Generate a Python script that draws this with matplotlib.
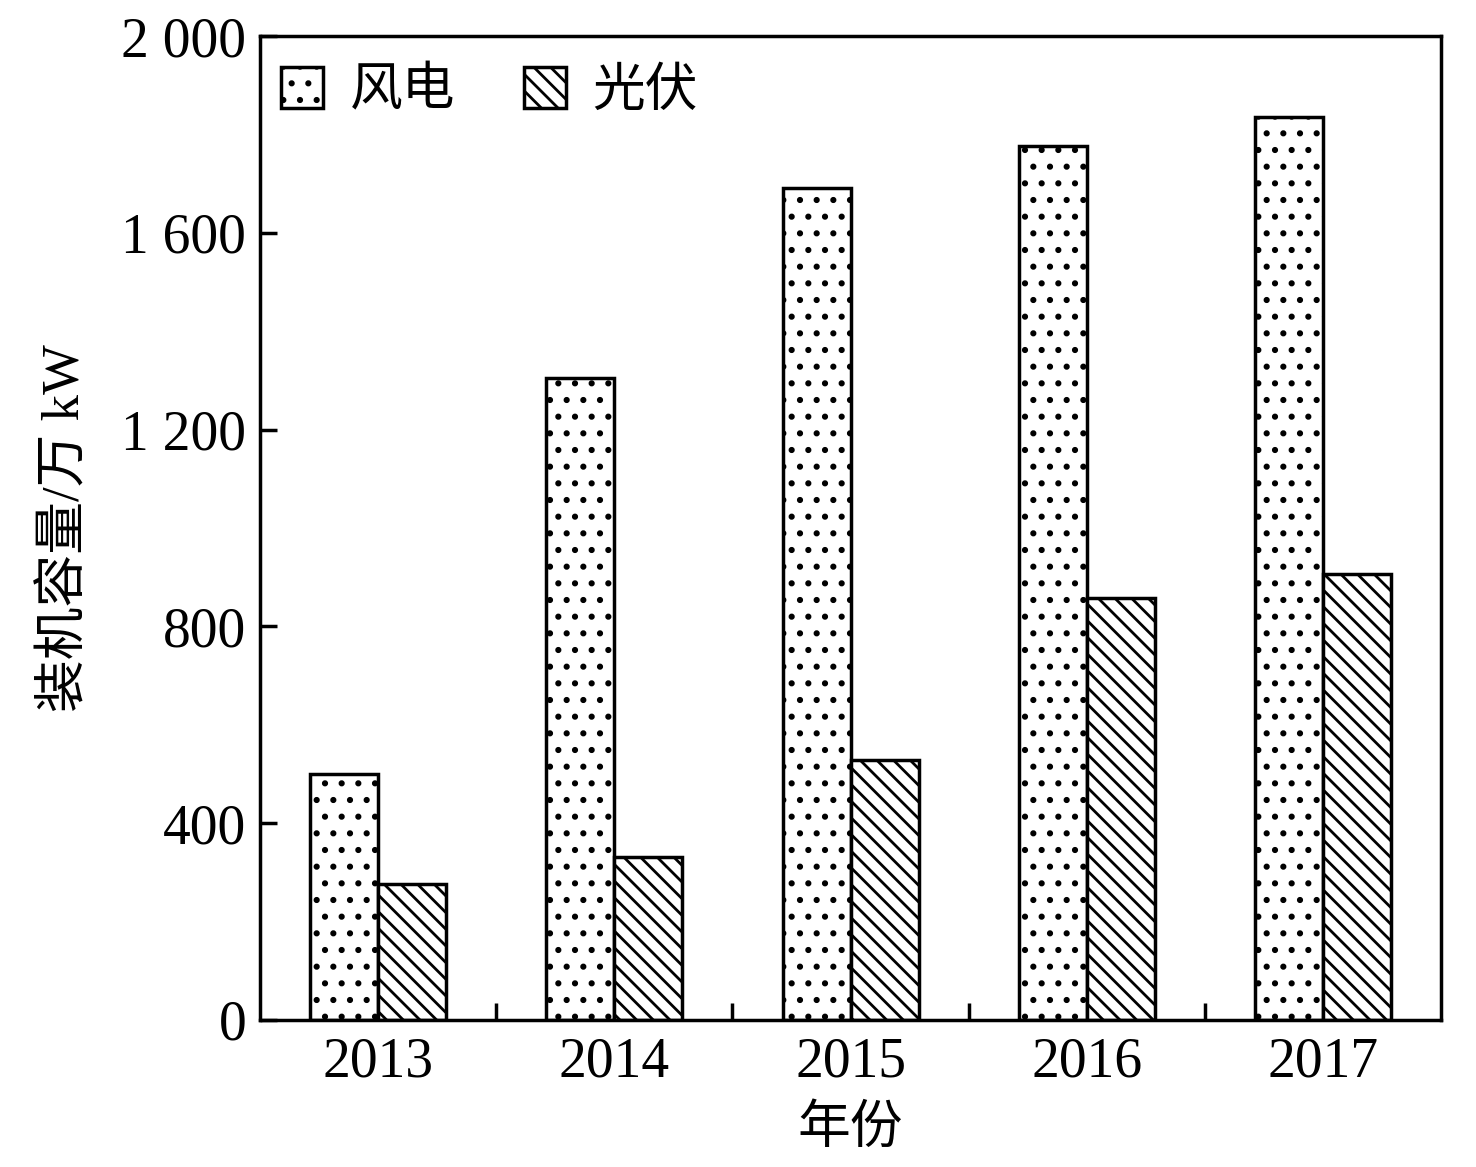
import numpy as np
import matplotlib
matplotlib.use('Agg')
import matplotlib.pyplot as plt

plt.rcParams['font.family'] = ['Liberation Serif', 'Noto Sans CJK SC']
plt.rcParams['hatch.linewidth'] = 2.0
plt.rcParams['hatch.color'] = 'black'

years = ['2013', '2014', '2015', '2016', '2017']
wind = [500, 1305, 1691, 1776, 1835]
solar = [276, 331, 528, 858, 906]
yticks = [0, 400, 800, 1200, 1600, 2000]
ytick_labels = ['0', '400', '800', '1 200', '1 600', '2 000']


def main():
    fig = plt.figure(figsize=(14.76, 11.67), dpi=100)
    ax = fig.add_axes([0.1762, 0.126, 0.8001, 0.843])

    x = np.arange(len(years))
    w = 0.288
    ax.bar(x - w / 2, wind, w, facecolor='white', edgecolor='black',
           linewidth=2.5, hatch='.', label='风电')
    ax.bar(x + w / 2, solar, w, facecolor='white', edgecolor='black',
           linewidth=2.5, hatch='\\\\', label='光伏')

    ax.set_xlim(-0.5, 4.5)
    ax.set_ylim(0, 2000)
    ax.set_xticks(x)
    ax.set_xticklabels(years, fontsize=40)
    ax.set_xticks(x[:-1] + 0.5, minor=True)
    ax.tick_params(axis='x', which='major', length=0, pad=12)
    ax.tick_params(axis='x', which='minor', direction='in', length=12, width=2.5)
    ax.set_yticks(yticks)
    ax.set_yticklabels(ytick_labels, fontsize=40)
    ax.tick_params(axis='y', direction='in', length=12, width=2.5, pad=10)
    for s in ax.spines.values():
        s.set_linewidth(2.5)

    ax.set_xlabel('年份', fontsize=38, labelpad=12)
    ax.set_ylabel('装机容量/万 kW', fontsize=38, labelpad=22)

    ax.legend(loc='upper left', bbox_to_anchor=(0.0, 0.99), ncol=2,
              frameon=False, fontsize=38, handlelength=0.8, handleheight=0.8,
              columnspacing=1.3, handletextpad=0.5, borderaxespad=0.0)

    plt.savefig('out.png')


if __name__ == '__main__':
    main()
